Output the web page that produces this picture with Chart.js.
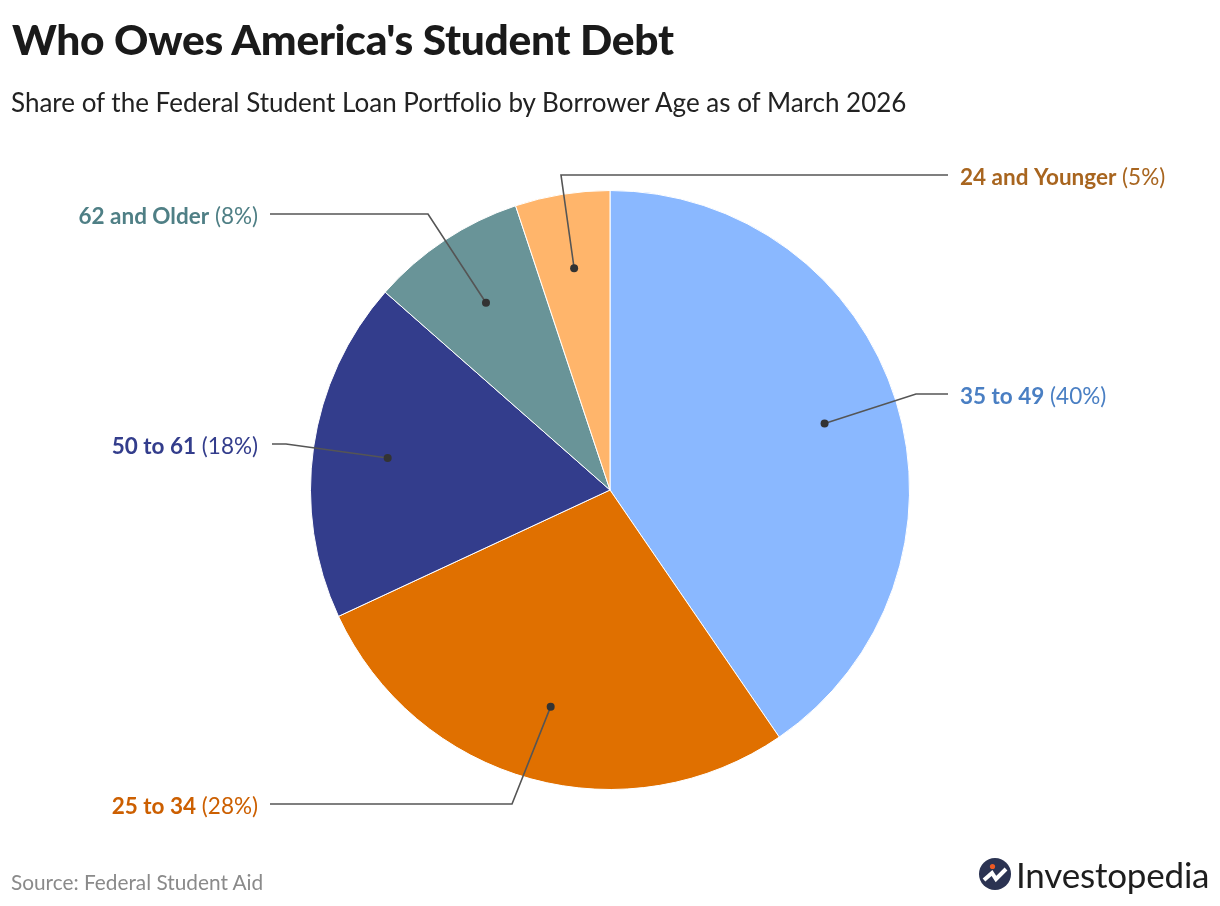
<!DOCTYPE html>
<html>
<head>
<meta charset="utf-8">
<script src="https://cdn.jsdelivr.net/npm/chart.js@4.4.1/dist/chart.umd.min.js"></script>
<style>
  html, body { margin: 0; padding: 0; background: #ffffff; }
  body { width: 1220px; height: 906px; position: relative; overflow: hidden; font-family: Lato, "Noto Sans", sans-serif; }
  #title { position: absolute; left: 12px; top: 13px; font-size: 42.5px; font-weight: 900; color: #1a1a1a; letter-spacing: -0.3px; white-space: nowrap; line-height: 1.2; }
  #subtitle { position: absolute; left: 11px; top: 87px; font-size: 26px; font-weight: 400; color: #222; white-space: nowrap; line-height: 1.2; }
  #source { position: absolute; left: 11px; top: 870px; font-size: 20.8px; color: #8a8a8a; white-space: nowrap; line-height: 1.2; }
  #logo { position: absolute; left: 979px; top: 856px; height: 36px; display: flex; align-items: center; }
  #logo span { font-size: 35px; color: #1e1e1e; margin-left: 5px; letter-spacing: -0.2px; }
  #wrap { position: absolute; left: 0; top: 0; width: 1220px; height: 906px; }
</style>
</head>
<body>
<div id="wrap"><canvas id="c"></canvas></div>
<div id="title">Who Owes America's Student Debt</div>
<div id="subtitle">Share of the Federal Student Loan Portfolio by Borrower Age as of March 2026</div>
<div id="source">Source: Federal Student Aid</div>
<div id="logo">
  <svg width="32" height="32" viewBox="0 0 32 32">
    <circle cx="16" cy="16" r="16" fill="#2b3352"/>
    <path d="M5 22 L13 15 L17 21 L27 11" stroke="#ffffff" stroke-width="4" fill="none" stroke-linejoin="miter"/>
    <circle cx="13.5" cy="8.5" r="2.6" fill="#ee5a24"/>
  </svg>
  <span>Investopedia</span>
</div>
<script>
// ---- data ----
const categories = ["35 to 49", "25 to 34", "50 to 61", "62 and Older", "24 and Younger"];
const values = [40.4, 27.6, 18.4, 8.4, 5.1];
const sliceColors = ["#8ab8ff", "#e07000", "#333d8c", "#699498", "#ffb56b"];
const labelColors = ["#4a7fc3", "#cc5f00", "#333d8c", "#4f7f85", "#a8651f"];

// ---- label layout (text anchor, elbow) ----
const labelLayout = [
  { side: "right", tx: 960, ty: 395, lineStart: 948, elbowX: 916 },
  { side: "left",  tx: 258, ty: 805, lineStart: 270, elbowX: 512 },
  { side: "left",  tx: 258, ty: 445, lineStart: 272, elbowX: 286 },
  { side: "left",  tx: 258, ty: 215, lineStart: 270, elbowX: 428 },
  { side: "right", tx: 960, ty: 176, lineStart: 948, elbowX: 561 }
];

const FONT = "Lato, 'Noto Sans', sans-serif";
const LSIZE = 22.5;

const labelPlugin = {
  id: "leaderLabels",
  afterDatasetsDraw(chart) {
    const ctx = chart.ctx;
    const meta = chart.getDatasetMeta(0);
    meta.data.forEach((arc, i) => {
      const p = arc.getProps(["x", "y", "startAngle", "endAngle", "outerRadius"], true);
      const mid = (p.startAngle + p.endAngle) / 2;
      const r = p.outerRadius * 0.75;
      const dx = p.x + Math.cos(mid) * r;
      const dy = p.y + Math.sin(mid) * r;
      const L = labelLayout[i];
      const lineY = L.ty - 1;
      ctx.save();
      ctx.strokeStyle = "#555555";
      ctx.lineWidth = 1.6;
      ctx.beginPath();
      ctx.moveTo(dx, dy);
      ctx.lineTo(L.elbowX, lineY);
      ctx.lineTo(L.lineStart, lineY);
      ctx.stroke();
      ctx.fillStyle = "#333333";
      ctx.beginPath();
      ctx.arc(dx, dy, 4, 0, Math.PI * 2);
      ctx.fill();

      const boldTxt = categories[i];
      const normTxt = " (" + Math.round(values[i]) + "%)";
      const ty = L.ty + 1.5;
      ctx.textBaseline = "middle";
      ctx.fillStyle = labelColors[i];
      ctx.font = "bold " + LSIZE + "px " + FONT;
      const bw = ctx.measureText(boldTxt).width;
      ctx.font = LSIZE + "px " + FONT;
      const nw = ctx.measureText(normTxt).width;
      const x0 = L.side === "right" ? L.tx : L.tx - bw - nw;
      ctx.textAlign = "left";
      ctx.font = "bold " + LSIZE + "px " + FONT;
      ctx.fillText(boldTxt, x0, ty);
      ctx.font = LSIZE + "px " + FONT;
      ctx.fillText(normTxt, x0 + bw, ty);
      ctx.restore();
    });
  }
};

new Chart(document.getElementById("c"), {
  type: "pie",
  data: {
    labels: categories,
    datasets: [{
      data: values,
      backgroundColor: sliceColors,
      borderColor: "#ffffff",
      borderWidth: 1
    }]
  },
  options: {
    responsive: true,
    maintainAspectRatio: false,
    animation: false,
    layout: { padding: { left: 310, right: 310, top: 190, bottom: 116 } },
    plugins: {
      legend: { display: false },
      tooltip: { enabled: false },
      title: { display: false }
    }
  },
  plugins: [labelPlugin]
});
</script>
</body>
</html>
